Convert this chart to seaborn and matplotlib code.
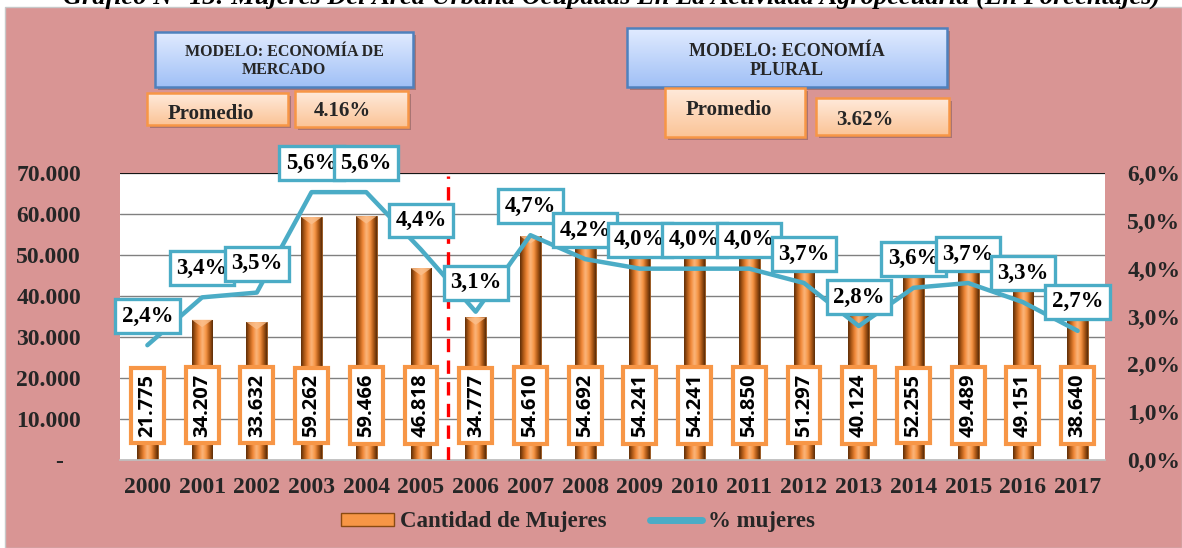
import numpy as np
import pandas as pd
import matplotlib
matplotlib.use("Agg")
import matplotlib.pyplot as plt
import seaborn as sns
from matplotlib.patches import Rectangle, Patch, Polygon
from matplotlib.lines import Line2D
import matplotlib.transforms as mtrans
from matplotlib.colors import LinearSegmentedColormap

# ---------------- data ----------------
years = [str(y) for y in range(2000, 2018)]
mujeres = [21775, 34207, 33632, 59262, 59466, 46818, 34777, 54610, 54692,
           54241, 54241, 54850, 51297, 40124, 52255, 49489, 49151, 38640]
pct = [2.4, 3.4, 3.5, 5.6, 5.6, 4.4, 3.1, 4.7, 4.2, 4.0, 4.0, 4.0, 3.7,
       2.8, 3.6, 3.7, 3.3, 2.7]
left_ticks = [0, 10000, 20000, 30000, 40000, 50000, 60000, 70000]
right_ticks = [0, 1, 2, 3, 4, 5, 6]
split_pos = 5.5  # boundary between 2005 and 2006
title = "Gráfico N° 13: Mujeres Del Área Urbana Ocupadas En La Actividad Agropecuaria (En Porcentajes)"
model1 = "MODELO: ECONOMÍA DE\nMERCADO"
model2 = "MODELO: ECONOMÍA\nPLURAL"
avg1 = "4.16%"
avg2 = "3.62%"

df = pd.DataFrame({"year": years, "mujeres": mujeres, "pct": pct,
                   "pos": np.arange(len(years))})

# ---------------- style ----------------
sns.set_theme(style="white")
plt.rcParams["font.family"] = ["Liberation Serif", "DejaVu Serif"]
plt.rcParams["font.weight"] = "bold"

ORANGE = "#F79646"
TEAL = "#4BACC6"
PINK = "#D99594"

W, H = 1182, 548
fig = plt.figure(figsize=(W / 100, H / 100), dpi=100)
fig.patch.set_facecolor("white")
fig.patches.append(Rectangle((5 / W, 0), 1 - 5 / W, 1 - 7 / H, transform=fig.transFigure,
                             facecolor=PINK, edgecolor="#C8C8C8", lw=1, zorder=-5))

ax = fig.add_axes([120 / W, 1 - 460 / H, (1105 - 120) / W, (460 - 173) / H])
ax.set_facecolor("white")

sns.barplot(data=df, x="year", y="mujeres", color=ORANGE, saturation=1,
            width=0.38, ax=ax, edgecolor="#8A4A12", linewidth=0.6)

# cylinder-like shading on bars
cyl = LinearSegmentedColormap.from_list(
    "cyl", ["#5E2E08", "#B35C18", "#F28A3A", "#FBB67C", "#F79646", "#B35C18", "#5A2C07"])
grad = np.linspace(0, 1, 64).reshape(1, -1)
for p in list(ax.patches):
    x0, y0 = p.get_x(), p.get_y()
    w, h = p.get_width(), p.get_height()
    im = ax.imshow(grad, cmap=cyl, extent=[x0, x0 + w, y0, y0 + h], aspect="auto",
                   zorder=p.get_zorder() + 0.1, interpolation="bicubic")
    im.set_clip_path(p)
    # bevelled top
    top = y0 + h
    dh = 1800
    ax.add_patch(Polygon([[x0, top], [x0 + w, top], [x0 + w / 2, top - dh]], closed=True,
                         facecolor="#FBC08E", edgecolor="none", alpha=0.8,
                         zorder=p.get_zorder() + 0.2))

ax.set_xlim(-0.5, len(years) - 0.5)
ax.set_ylim(left_ticks[0], left_ticks[-1])
ax.set_yticks(left_ticks)
ax.set_yticklabels([f"{v:,}".replace(",", ".") if v else "-   " for v in left_ticks])
ax.yaxis.grid(True, color="#808080", lw=1)
ax.set_axisbelow(True)
for s in ["top", "right", "left"]:
    ax.spines[s].set_visible(False)
ax.spines["bottom"].set_color("#BFBFBF")
ax.tick_params(axis="y", length=0, pad=28, labelsize=17)
ax.tick_params(axis="x", length=0, pad=12, labelsize=17)
for t in ax.get_xticklabels() + ax.get_yticklabels():
    t.set_fontweight("bold")
ax.set_xlabel("")
ax.set_ylabel("")
ax.axhline(left_ticks[-1], color="black", lw=1.2, zorder=1)

# ---------------- secondary axis (percent line) ----------------
ax2 = ax.twinx()
ax2.set_facecolor("none")
sns.lineplot(data=df, x="pos", y="pct", color=TEAL, lw=3.2, ax=ax2, legend=False)
ax2.set_ylim(right_ticks[0], right_ticks[-1])
ax2.set_yticks(right_ticks)
ax2.set_yticklabels([f"{v:.1f}%".replace(".", ",") for v in right_ticks])
ax2.tick_params(axis="y", length=0, pad=16, labelsize=17)
for t in ax2.get_yticklabels():
    t.set_fontweight("bold")
for s in ax2.spines.values():
    s.set_visible(False)
ax2.set_xlabel("")
ax2.set_ylabel("")
ax2.set_xlim(-0.5, len(years) - 0.5)

# split line
ax2.axvline(split_pos, ymin=0, ymax=0.99, color="#FF0000", lw=2.4,
            linestyle=(0, (4, 2.5)), zorder=3)

# percent labels
for xp, v in zip(df["pos"], df["pct"]):
    ax2.annotate(f"{v:.1f}%".replace(".", ","), (xp, v), xytext=(0, 29),
                 textcoords="offset pixels", ha="center", va="center",
                 fontsize=16.5, fontweight="bold", color="black", zorder=6,
                 bbox=dict(boxstyle="square,pad=0.28", fc="white", ec=TEAL, lw=2.4))

# bar value labels
trans = mtrans.blended_transform_factory(ax2.transData, ax2.transAxes)
for xp, v in zip(df["pos"], df["mujeres"]):
    ax2.text(xp, 0.19, f"{v:,}".replace(",", "."), transform=trans, rotation=90,
             ha="center", va="center", fontsize=14.5, fontweight="bold",
             family=["Open Sans", "DejaVu Sans"], color="black", zorder=5,
             bbox=dict(boxstyle="square,pad=0.32", fc="white", ec=ORANGE, lw=3))

# ---------------- legend ----------------
handles = [Patch(facecolor=ORANGE, edgecolor="#8A4A12", lw=1),
           Line2D([0], [0], color=TEAL, lw=5, solid_capstyle="round")]
fig.legend(handles, ["Cantidad de Mujeres", "% mujeres"], loc="center",
           bbox_to_anchor=(0.489, 1 - 522 / H), ncol=2, frameon=False,
           prop=dict(family="Liberation Serif", weight="bold", size=16.5),
           handlelength=2.3, handleheight=0.5, handletextpad=0.25, columnspacing=1.9)

# ---------------- title (clipped at top, as in the source) ----------------
fig.text(612 / W, 1 - 4 / H, title, ha="center", va="baseline", fontsize=19,
         style="italic", fontweight="bold", color="black")

# ---------------- top info boxes ----------------
oax = fig.add_axes([0, 0, 1, 1], zorder=10)
oax.set_xlim(0, W)
oax.set_ylim(H, 0)
oax.axis("off")


def grad_box(x0, y0, x1, y1, ctop, cbot, edge, lw=1.8):
    oax.add_patch(Rectangle((x0 + 3, y0 + 3), x1 - x0, y1 - y0,
                            facecolor=(0, 0, 0, 0.22), edgecolor="none", zorder=1))
    rect = Rectangle((x0, y0), x1 - x0, y1 - y0, facecolor="none",
                     edgecolor=edge, lw=lw, zorder=3)
    oax.add_patch(rect)
    cm = LinearSegmentedColormap.from_list("g", [ctop, cbot])
    im = oax.imshow(np.linspace(0, 1, 100).reshape(-1, 1), cmap=cm,
                    extent=[x0, x1, y1, y0], aspect="auto", zorder=2)
    im.set_clip_path(rect)


BLUE_T, BLUE_B, BLUE_E = "#E1EBFF", "#A0C0F6", "#4F81BD"
OR_T, OR_B, OR_E = "#FFEADB", "#FBC497", ORANGE

grad_box(155, 32, 413, 87, BLUE_T, BLUE_B, BLUE_E)
oax.text(284, 61, model1, ha="center", va="center", fontsize=11.5,
         fontweight="bold", linespacing=1.1, zorder=4)
grad_box(147, 93, 288, 125, OR_T, OR_B, OR_E)
oax.text(211, 114, "Promedio", ha="center", va="center", fontsize=15,
         fontweight="bold", zorder=4)
grad_box(295, 91, 408, 127, OR_T, OR_B, OR_E)
oax.text(342, 111, avg1, ha="center", va="center", fontsize=15,
         fontweight="bold", zorder=4)

grad_box(627, 28, 947, 87, BLUE_T, BLUE_B, BLUE_E)
oax.text(787, 61, model2, ha="center", va="center", fontsize=13,
         fontweight="bold", linespacing=1.15, zorder=4)
grad_box(665, 88, 805, 137, OR_T, OR_B, OR_E)
oax.text(729, 110, "Promedio", ha="center", va="center", fontsize=15,
         fontweight="bold", zorder=4)
grad_box(816, 98, 949, 135, OR_T, OR_B, OR_E)
oax.text(865, 120, avg2, ha="center", va="center", fontsize=15,
         fontweight="bold", zorder=4)

fig.savefig("out.png", dpi=100, facecolor=fig.get_facecolor())
